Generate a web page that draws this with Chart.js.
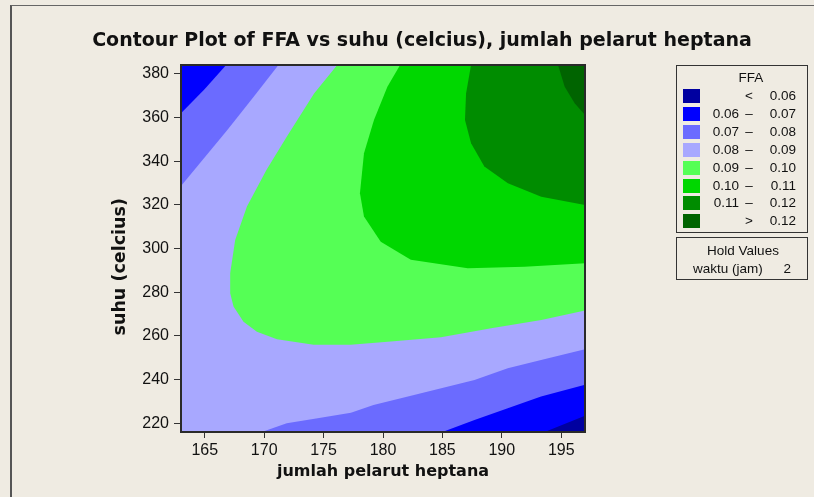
<!DOCTYPE html>
<html>
<head>
<meta charset="utf-8">
<script src="https://cdn.jsdelivr.net/npm/chart.js@4"></script>
<style>
  body { margin: 0; background: #efebe2; }
  #wrap { position: relative; width: 814px; height: 497px; overflow: hidden; font-family: "Liberation Sans", Arial, sans-serif; color: #111; }
  #frame { position: absolute; left: 10px; top: 5px; width: 820px; height: 500px; border-top: 1px solid #666; border-left: 2px solid #555; }
  #myChart { position: absolute; left: 0; top: 0; }
  #title { position: absolute; left: 0; width: 844px; top: 28px; text-align: center; font-family: "DejaVu Sans", sans-serif; font-weight: bold; font-size: 19px; }
  .box { position: absolute; left: 676px; width: 130px; border: 1px solid #333; }
  .txt { position: absolute; font-size: 13.5px; line-height: 16px; white-space: nowrap; }
  .sw { position: absolute; left: 6px; width: 17px; height: 14px; }
</style>
</head>
<body>
<div id="wrap">
  <div id="frame"></div>
  <canvas id="myChart" width="814" height="497"></canvas>
  <div id="title">Contour Plot of FFA vs suhu (celcius), jumlah pelarut heptana</div>
  <div class="box" id="legendBox" style="top:65px;height:166px"></div>
  <div class="box" id="holdBox" style="top:237px;height:41px"></div>
</div>
<script>
// axis ranges and ticks
const xRange = [163, 197];
const yRange = [216, 384];
const xTickValues = [165, 170, 175, 180, 185, 190, 195];
const yTickValues = [220, 240, 260, 280, 300, 320, 340, 360, 380];

// contour levels (legend)
const levelLow = ['', '0.06', '0.07', '0.08', '0.09', '0.10', '0.11', ''];
const levelSep = ['<', '\u2013', '\u2013', '\u2013', '\u2013', '\u2013', '\u2013', '>'];
const levelHigh = ['0.06', '0.07', '0.08', '0.09', '0.10', '0.11', '0.12', '0.12'];
const levelColors = ['#0000a0', '#0000ff', '#6b6bff', '#a8a8ff', '#55ff55', '#00d700', '#008c00', '#006400'];

// contour regions, as [x, y] polygons
const fullArea = [[163, 216], [197, 216], [197, 384], [163, 384]];
const topLeftBelow08 = [[163, 384], [171.2, 384], [169.2, 370], [166.9, 354.3], [163, 328.6]];
const topLeftBelow07 = [[163, 384], [166.8, 384], [165.0, 373], [163, 361.9]];
const bottomBelow08 = [[169.8, 216], [171.9, 220.0], [174.5, 222.3], [177.3, 224.8], [179.2, 228.4], [182.1, 232.2],
  [184.9, 236.0], [187.7, 239.8], [190.5, 245.2], [193.3, 249.0], [197, 253.9], [197, 216]];
const bottomBelow07 = [[185.0, 216], [187.7, 221.5], [190.5, 226.9], [193.3, 232.2], [197, 237.6], [197, 216]];
const bottomBelow06 = [[193.6, 216], [197, 223.4], [197, 216]];
const above09 = [[176.15, 384], [174.2, 371.0], [171.9, 351.2], [170.2, 336.0], [168.55, 319.2], [167.56, 303.9],
  [167.14, 288.7], [167.14, 279.5], [167.42, 273.4], [168.26, 266.5], [169.39, 261.9], [171.08, 258.5],
  [174.17, 255.9], [177.27, 255.9], [180.65, 257.4], [184.88, 259.4], [189.1, 263.5], [193.32, 267.3],
  [197, 271.6], [197, 384]];
const above10 = [[181.44, 384], [180.37, 374.1], [179.24, 358.8], [178.4, 343.6], [178.06, 325.3], [178.4, 314.6],
  [179.81, 303.1], [182.34, 294.8], [187.13, 291.0], [191.91, 291.7], [197, 293.2], [197, 384]];
const above11 = [[187.41, 384], [186.99, 371.0], [186.9, 358.8], [187.41, 348.2], [188.53, 337.5], [190.51, 329.9],
  [193.32, 323.7], [197, 319.9], [197, 384]];
const above12 = [[194.73, 384], [195.29, 374.1], [196.13, 366.5], [197, 361.1], [197, 384]];

function region(points, color, order) {
  return {
    data: points.map(p => ({ x: p[0], y: p[1] })),
    showLine: true,
    fill: 'shape',
    backgroundColor: color,
    borderColor: color,
    borderWidth: 0,
    pointRadius: 0,
    tension: 0,
    order: order
  };
}

const datasets = [
  region(fullArea, levelColors[3], 10),
  region(topLeftBelow08, levelColors[2], 9),
  region(topLeftBelow07, levelColors[1], 8),
  region(bottomBelow08, levelColors[2], 9),
  region(bottomBelow07, levelColors[1], 8),
  region(bottomBelow06, levelColors[0], 7),
  region(above09, levelColors[4], 6),
  region(above10, levelColors[5], 5),
  region(above11, levelColors[6], 4),
  region(above12, levelColors[7], 3)
];

// frame around the plot area
const framePlugin = {
  id: 'frame',
  afterDatasetsDraw(chart) {
    const a = chart.chartArea;
    const ctx = chart.ctx;
    ctx.save();
    ctx.strokeStyle = '#2a2a2a';
    ctx.lineWidth = 2;
    ctx.strokeRect(a.left, a.top, a.right - a.left, a.bottom - a.top);
    ctx.restore();
  }
};

const tickFont = { family: '"Liberation Sans", Arial, sans-serif', size: 16 };
const xTitleFont = { family: '"DejaVu Sans", sans-serif', size: 16, weight: 'bold' };
const yTitleFont = { family: '"DejaVu Sans", sans-serif', size: 17.5, weight: 'bold' };

const ctx = document.getElementById('myChart').getContext('2d');
const chart = new Chart(ctx, {
  type: 'scatter',
  data: { datasets: datasets },
  options: {
    responsive: false,
    animation: false,
    layout: { padding: { left: 110, right: 229, top: 65, bottom: 0 } },
    plugins: { legend: { display: false }, tooltip: { enabled: false }, title: { display: false } },
    scales: {
      x: {
        type: 'linear', min: xRange[0], max: xRange[1],
        afterBuildTicks: s => { s.ticks = xTickValues.map(v => ({ value: v })); },
        afterFit: s => { s.height = 65; },
        grid: { drawOnChartArea: false, tickLength: 6, color: '#333' },
        border: { display: false },
        ticks: { font: tickFont, color: '#111', padding: 3, maxRotation: 0 },
        title: { display: true, text: 'jumlah pelarut heptana', font: xTitleFont, color: '#111', padding: { top: 0, bottom: 16 } }
      },
      y: {
        type: 'linear', min: yRange[0], max: yRange[1],
        afterBuildTicks: s => { s.ticks = yTickValues.map(v => ({ value: v })); },
        afterFit: s => { s.width = 71; },
        grid: { drawOnChartArea: false, tickLength: 7, color: '#333' },
        border: { display: false },
        ticks: { font: tickFont, color: '#111', padding: 5 },
        title: { display: true, text: 'suhu (celcius)\u00a0\u00a0\u00a0\u00a0\u00a0\u00a0', font: yTitleFont, color: '#111', padding: { top: 0, bottom: 0 } }
      }
    }
  },
  plugins: [framePlugin]
});

// legend boxes
const legendBox = document.getElementById('legendBox');
function addText(parent, text, left, top, align) {
  const d = document.createElement('div');
  d.className = 'txt';
  d.textContent = text;
  d.style.top = top + 'px';
  if (align === 'right') { d.style.right = left + 'px'; }
  else if (align === 'center') { d.style.left = (left - 60) + 'px'; d.style.width = '120px'; d.style.textAlign = 'center'; }
  else { d.style.left = left + 'px'; }
  parent.appendChild(d);
}
addText(legendBox, 'FFA', 74, 4, 'center');
for (let i = 0; i < levelColors.length; i++) {
  const cy = 30 + i * 17.9;
  const sw = document.createElement('div');
  sw.className = 'sw';
  sw.style.top = (cy - 7) + 'px';
  sw.style.background = levelColors[i];
  legendBox.appendChild(sw);
  if (levelLow[i]) addText(legendBox, levelLow[i], 68, cy - 8, 'right');
  addText(legendBox, levelSep[i], 72, cy - 8, 'center');
  addText(legendBox, levelHigh[i], 11, cy - 8, 'right');
}
const holdBox = document.getElementById('holdBox');
addText(holdBox, 'Hold Values', 66, 5, 'center');
addText(holdBox, 'waktu (jam)', 16, 23, 'left');
addText(holdBox, '2', 16, 23, 'right');
</script>
</body>
</html>
